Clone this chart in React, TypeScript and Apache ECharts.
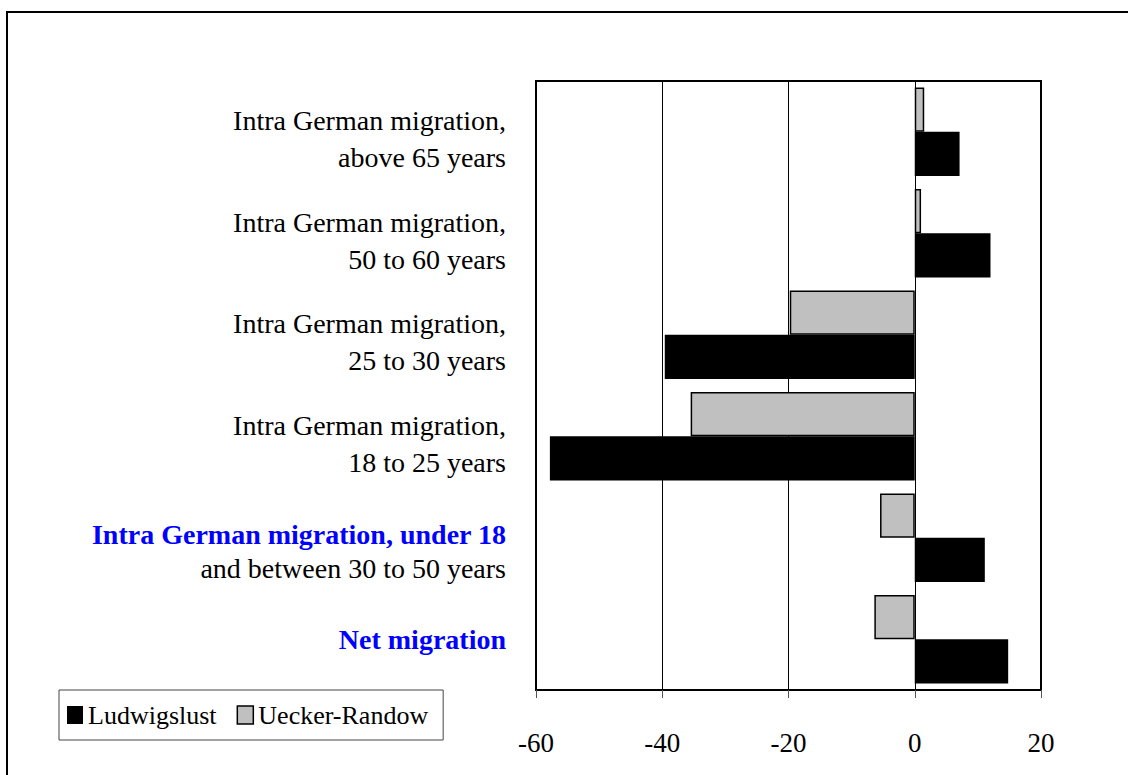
import React, { useEffect, useRef } from "react";
import * as echarts from "echarts";

// Categories listed bottom-to-top (category axis starts at the bottom)
const categories: string[] = [
  "Net migration",
  "Intra German migration, under 18\nand between 30 to 50 years",
  "Intra German migration,\n18 to 25 years",
  "Intra German migration,\n25 to 30 years",
  "Intra German migration,\n50 to 60 years",
  "Intra German migration,\nabove 65 years",
];
const highlighted: string[] = ["Net migration", "Intra German migration, under 18"];

const seriesNames: string[] = ["Ludwigslust", "Uecker-Randow"];
const ludwigslust: number[] = [14.8, 11.1, -57.8, -39.6, 12.0, 7.1];
const ueckerRandow: number[] = [-6.4, -5.5, -35.5, -19.8, 1.0, 1.5];

const xTicks = { min: -60, max: 20, interval: 20 };

const FONT = "'Liberation Serif', 'Times New Roman', serif";

export default function App() {
  const ref = useRef<HTMLDivElement | null>(null);

  useEffect(() => {
    if (!ref.current) return;
    const chart = echarts.init(ref.current, null, { renderer: "svg" });
    chart.setOption({
      animation: false,
      backgroundColor: "#fff",
      graphic: [
        {
          type: "rect",
          shape: { x: 7, y: 12, width: 1200, height: 900 },
          style: { fill: "none", stroke: "#000", lineWidth: 2 },
          silent: true,
          z: 0,
        },
      ],
      legend: {
        left: 59,
        top: 690,
        orient: "horizontal",
        borderColor: "#444",
        borderWidth: 1,
        padding: [12, 15, 12, 8],
        itemGap: 20,
        itemWidth: 16,
        itemHeight: 18,
        icon: "rect",
        textStyle: { fontFamily: FONT, fontSize: 26, color: "#000" },
        data: [
          { name: seriesNames[0], itemStyle: { color: "#000", borderWidth: 0 } },
          { name: seriesNames[1], itemStyle: { color: "#C0C0C0", borderColor: "#000", borderWidth: 1.5 } },
        ],
      },
      grid: {
        left: 536,
        right: 87,
        top: 81,
        bottom: 85,
        show: true,
        borderColor: "#000",
        borderWidth: 2,
        backgroundColor: "transparent",
      },
      xAxis: {
        type: "value",
        min: xTicks.min,
        max: xTicks.max,
        interval: xTicks.interval,
        axisLine: { show: true, onZero: false, lineStyle: { color: "#000", width: 2 } },
        axisTick: { show: true, length: 8, lineStyle: { color: "#555", width: 1 } },
        splitLine: { show: true, lineStyle: { color: "#000", width: 1 } },
        axisLabel: {
          margin: 39,
          color: "#000",
          fontFamily: FONT,
          fontSize: 27,
        },
      },
      yAxis: {
        type: "category",
        data: categories,
        axisLine: { show: false },
        axisTick: { show: false },
        splitLine: { show: false },
        axisLabel: {
          margin: 30,
          color: "#000",
          fontFamily: FONT,
          fontSize: 28,
          align: "right",
          formatter: (value: string) => {
            const lines = value.split("\n");
            if (lines.length === 1) {
              return highlighted.includes(lines[0]) ? `{e|${lines[0]}}` : `{a|${lines[0]}}`;
            }
            if (highlighted.includes(lines[0])) {
              return `{c|${lines[0]}}\n{d|${lines[1]}}`;
            }
            return `{a|${lines[0]}}\n{b|${lines[1]}}`;
          },
          rich: {
            a: { fontFamily: FONT, fontSize: 28, color: "#000", lineHeight: 52, align: "right" },
            b: { fontFamily: FONT, fontSize: 28, color: "#000", lineHeight: 22, align: "right" },
            c: { fontFamily: FONT, fontSize: 28, color: "#0000FF", fontWeight: "bold", lineHeight: 62, align: "right" },
            d: { fontFamily: FONT, fontSize: 28, color: "#000", lineHeight: 6, align: "right" },
            e: { fontFamily: FONT, fontSize: 28, color: "#0000FF", fontWeight: "bold", lineHeight: 30, align: "right" },
          },
        },
      },
      series: [
        {
          name: seriesNames[1],
          type: "bar",
          data: ueckerRandow,
          barGap: "0%",
          barCategoryGap: "13%",
          itemStyle: { color: "#C0C0C0", borderColor: "#000", borderWidth: 1.5 },
          z: 2,
        },
        {
          name: seriesNames[0],
          type: "bar",
          data: ludwigslust,
          barGap: "0%",
          barCategoryGap: "13%",
          itemStyle: { color: "#000" },
          z: 2,
        },
      ],
    });
    return () => chart.dispose();
  }, []);

  return (
    <div
      ref={ref}
      style={{ position: "absolute", left: 0, top: 0, width: 1128, height: 775, background: "#fff" }}
    />
  );
}
